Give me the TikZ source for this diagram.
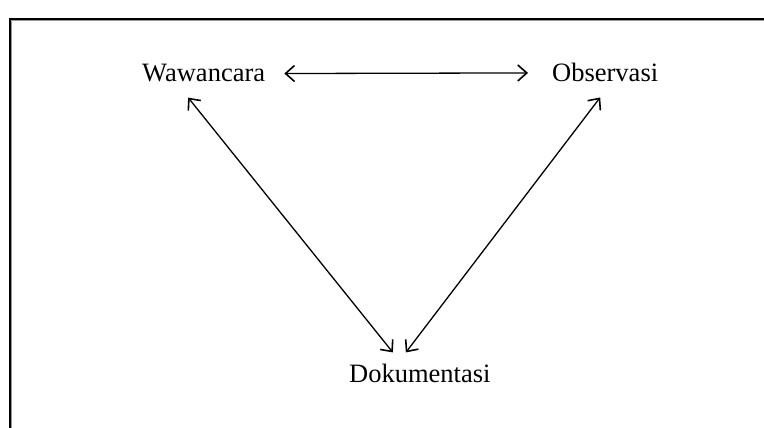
\documentclass[tikz,border=0pt]{standalone}
\usepackage{fontspec}
\setmainfont{Liberation Serif}
\usetikzlibrary{arrows.meta}
\begin{document}
\begin{tikzpicture}[x=1pt,y=-1pt,
  lbl/.style={inner sep=0pt,anchor=base west,font=\fontsize{26.5}{30}\selectfont},
  link/.style={line width=1.3pt,{Straight Barb[length=9pt,width=16pt,line width=1.6pt]}-{Straight Barb[length=9pt,width=16pt,line width=1.6pt]}}]
\useasboundingbox (0,0) rectangle (764,428);
% frame (cropped at right and bottom)
\draw[line width=1.2pt,black] (10,428) -- (10,19) -- (764,19);
\draw[line width=1pt,black!40] (11.6,428) -- (11.6,20.6) -- (764,20.6);
% labels
\node[lbl] (w) at (142,82) {Wawancara};
\node[lbl] (o) at (552,82) {Observasi};
\node[lbl] (d) at (349,382) {Dokumentasi};
% connectors
\draw[link] ([xshift=19pt]w.east) -- ([xshift=-24pt]o.west);
\draw[link] ([xshift=-15.5pt,yshift=-15pt]w.south) -- ([xshift=-27pt,yshift=11pt]d.north);
\draw[link] ([xshift=-5pt,yshift=-15pt]o.south) -- ([xshift=-14pt,yshift=11pt]d.north);
\end{tikzpicture}
\end{document}
